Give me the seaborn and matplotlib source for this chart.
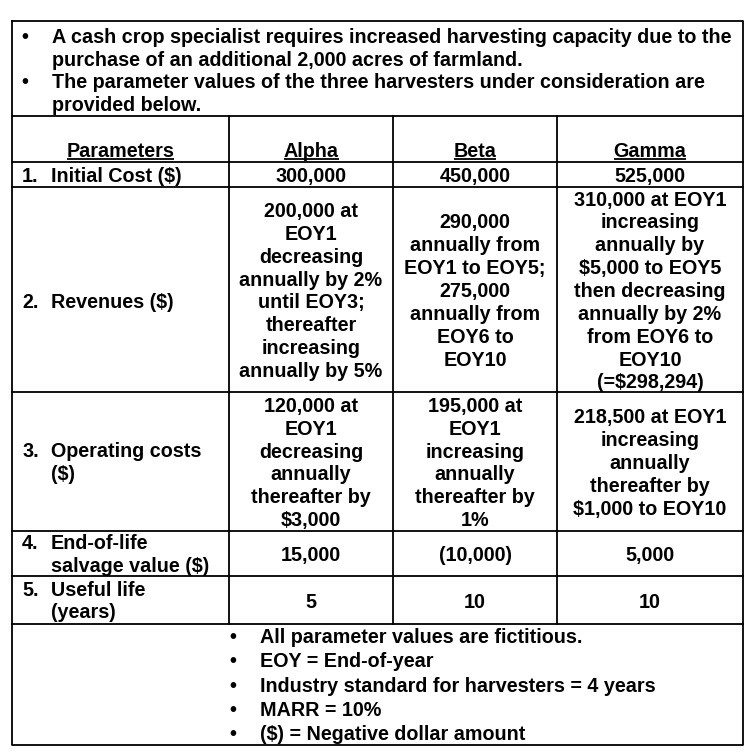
import matplotlib
matplotlib.use("Agg")
import matplotlib.pyplot as plt
import seaborn as sns

# ---------------- data ----------------
intro = [
    ["A cash crop specialist requires increased harvesting capacity due to the",
     "purchase of an additional 2,000 acres of farmland."],
    ["The parameter values of the three harvesters under consideration are",
     "provided below."],
]
headers = ["Parameters", "Alpha", "Beta", "Gamma"]
row_nums = ["1.", "2.", "3.", "4.", "5."]
row_labels = [
    ["Initial Cost ($)"],
    ["Revenues ($)"],
    ["Operating costs", "($)"],
    ["End-of-life", "salvage value ($)"],
    ["Useful life", "(years)"],
]
alpha = [
    ["300,000"],
    ["200,000 at", "EOY1", "decreasing", "annually by 2%", "until EOY3;",
     "thereafter", "increasing", "annually by 5%"],
    ["120,000 at", "EOY1", "decreasing", "annually", "thereafter by", "$3,000"],
    ["15,000"],
    ["5"],
]
beta = [
    ["450,000"],
    ["290,000", "annually from", "EOY1 to EOY5;", "275,000", "annually from",
     "EOY6 to", "EOY10"],
    ["195,000 at", "EOY1", "increasing", "annually", "thereafter by", "1%"],
    ["(10,000)"],
    ["10"],
]
gamma = [
    ["525,000"],
    ["310,000 at EOY1", "increasing", "annually by", "$5,000 to EOY5",
     "then decreasing", "annually by 2%", "from EOY6 to", "EOY10", "(=$298,294)"],
    ["218,500 at EOY1", "increasing", "annually", "thereafter by",
     "$1,000 to EOY10"],
    ["5,000"],
    ["10"],
]
notes = [
    "All parameter values are fictitious.",
    "EOY = End-of-year",
    "Industry standard for harvesters = 4 years",
    "MARR = 10%",
    "($) = Negative dollar amount",
]

# ---------------- style ----------------
sns.set_theme(style="white")
plt.rcParams["font.family"] = ["Liberation Sans", "DejaVu Sans"]
plt.rcParams["font.weight"] = "bold"

W, H = 751, 752
fig = plt.figure(figsize=(W / 100, H / 100), dpi=100)
ax = fig.add_axes([0, 0, 1, 1])
ax.set_xlim(0, W)
ax.set_ylim(H, 0)
ax.axis("off")

FS = 14.2
LW = 1.3
CAP = 7.0  # half cap height in px (baseline offset from visual centre)

# grid geometry (pixel coordinates)
X = [12, 229, 393, 557, 743]
Y_TOP, Y_INTRO, Y_HEAD, Y_END, Y_BOT = 21, 116, 162, 624, 745
ROW_Y = [162, 187, 392, 531, 576, 624]
PITCH = 22.85


def put(x, yc, s, ha="center"):
    return ax.text(x, yc + CAP, s, ha=ha, va="baseline", fontsize=FS,
                   fontweight="bold", color="black", parse_math=False)


def block(x, ycenter, lines, ha="center", pitch=PITCH):
    n = len(lines)
    y0 = ycenter - (n - 1) / 2 * pitch
    return [put(x, y0 + i * pitch, s, ha) for i, s in enumerate(lines)]


# outer border and lines
line_kw = dict(color="black", lw=LW, solid_capstyle="projecting")
ax.plot([X[0], X[-1], X[-1], X[0], X[0]],
        [Y_TOP, Y_TOP, Y_BOT, Y_BOT, Y_TOP], **line_kw)
for y in [Y_INTRO] + ROW_Y:
    ax.plot([X[0], X[-1]], [y, y], **line_kw)
for x in X[1:-1]:
    ax.plot([x, x], [Y_INTRO, Y_END], **line_kw)

# intro bullets
yl = 36
for para in intro:
    for j, s in enumerate(para):
        if j == 0:
            put(25, yl, "\u2022")
        put(52, yl, s, ha="left")
        yl += 22.7

# header row (bottom aligned, underlined)
col_centers = [(X[i] + X[i + 1]) / 2 for i in range(1, 4)]
hdr_texts = [put((X[0] + X[1]) / 2, 150.3, headers[0])]
for cx, h in zip(col_centers, headers[1:]):
    hdr_texts.append(put(cx, 150.3, h))
fig.canvas.draw()
rend = fig.canvas.get_renderer()
inv = ax.transData.inverted()
for t in hdr_texts:
    bb = t.get_window_extent(rend)
    (x0, _), (x1, _) = inv.transform([[bb.x0, bb.y0], [bb.x1, bb.y1]])
    ax.plot([x0, x1], [159.4, 159.4], color="black", lw=1.3,
            solid_capstyle="butt")

# body rows
label_centers = [174.5, 301, 461.5, 553.5, 600]
for r in range(5):
    ytop, ybot = ROW_Y[r], ROW_Y[r + 1]
    yc = (ytop + ybot) / 2
    lab = row_labels[r]
    ly0 = label_centers[r] - (len(lab) - 1) / 2 * PITCH
    put(22, ly0, row_nums[r], ha="left")
    block(51, label_centers[r], lab, ha="left")
    for cx, col in zip(col_centers, [alpha, beta, gamma]):
        block(cx, yc + 0.5, col[r])

# notes
block(233, 684.5, ["\u2022"] * len(notes), pitch=24.2)
block(260, 684.5, notes, ha="left", pitch=24.2)

fig.savefig("out.png", dpi=100, facecolor="white")
